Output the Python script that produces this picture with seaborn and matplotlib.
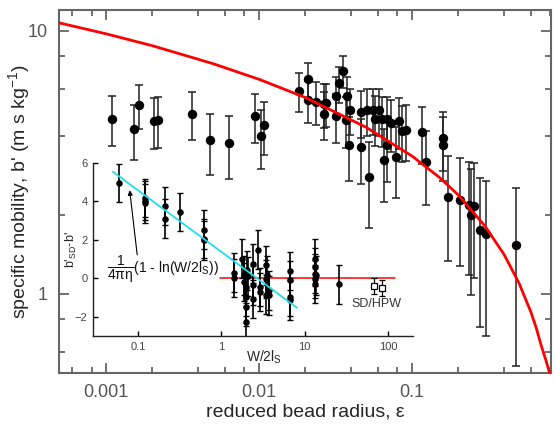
import numpy as np
import pandas as pd
import matplotlib
matplotlib.use('Agg')
import matplotlib.pyplot as plt
from matplotlib.ticker import LogLocator, NullFormatter, FixedLocator
import seaborn as sns

sns.set_style('ticks')
plt.rcParams['font.family'] = ['Liberation Sans', 'DejaVu Sans']
plt.rcParams['mathtext.fontset'] = 'custom'
plt.rcParams['mathtext.rm'] = 'Liberation Sans'
plt.rcParams['mathtext.it'] = 'Liberation Sans:italic'

# ── main data: reduced bead radius vs specific mobility ──────────────────────
eps_main = [0.00109, 0.00151, 0.00163, 0.00204, 0.00218, 0.00363, 0.00479, 0.00637, 0.00942, 0.0102, 0.0108,
            0.0181, 0.0207, 0.0208, 0.0235, 0.0266, 0.0274, 0.0266, 0.0318, 0.0318, 0.0335,
            0.0352, 0.0378, 0.0370, 0.0393, 0.0386, 0.0462, 0.0462, 0.0523, 0.0506, 0.0559,
            0.0611, 0.0573, 0.0634, 0.069, 0.0726, 0.069, 0.0656, 0.0786, 0.0823, 0.0857,
            0.0914, 0.116, 0.123, 0.160, 0.160, 0.171, 0.206, 0.236, 0.254, 0.242,
            0.278, 0.303, 0.478]
b_main = [4.64, 4.24, 5.22, 4.55, 4.60, 4.83, 3.84, 3.73, 4.74, 3.98, 4.38,
          5.92, 6.54, 5.45, 5.37, 5.27, 5.30, 4.85, 5.65, 4.74, 6.31,
          7.05, 5.65, 4.60, 5.02, 3.69, 4.92, 3.62, 2.78, 4.99, 5.02,
          4.99, 4.64, 4.62, 4.62, 4.47, 3.67, 3.24, 3.31, 4.55, 4.16,
          4.21, 4.13, 3.17, 3.93, 3.69, 2.33, 2.28, 2.18, 2.15, 1.99,
          1.75, 1.69, 1.53]
b_err = 1.0

# theory curve
eps_fit = [0.00049, 0.001, 0.002, 0.005, 0.01, 0.02, 0.05, 0.1, 0.15, 0.2,
           0.3, 0.4, 0.5, 0.6, 0.65, 0.7, 0.75, 0.81]
b_fit = [10.73, 9.74, 8.78, 7.50, 6.54, 5.58, 4.30, 3.34, 2.78, 2.38,
         1.81, 1.41, 1.10, 0.85, 0.74, 0.635, 0.56, 0.48]

# ── inset data: W/2lS vs b'SD - b' ───────────────────────────────────────────
w_in = [0.060, 0.123, 0.123, 0.123, 0.214, 0.214, 0.316, 0.613, 0.613, 0.613,
        1.43, 1.43, 1.77, 1.85, 1.90, 1.98, 1.98, 1.98, 1.98, 2.03,
        2.09, 2.40, 2.40, 2.40, 2.73, 2.94, 2.94, 3.44, 3.53, 3.70,
        3.70, 3.47, 3.47,
        6.73, 6.73, 6.73, 6.73, 13.4, 13.4, 13.4, 13.4, 13.4, 13.6, 25.6]
db_in = [4.97, 4.19, 3.90, 4.05, 3.77, 3.11, 3.46, 2.54, 2.07, 1.98,
         0.30, 0.02, 1.03, 0.16, -0.19, -0.45, -0.97, -1.50, -2.28, 0.42,
         0.10, 0.77, -0.37, -1.06, 1.50, -0.45, -0.71, 0.68, 0.16, -0.63,
         -0.89, -0.02, -0.85,
         0.38, -0.10, -0.97, -1.15, 1.03, 0.59, 0.25, -0.02, -0.28, 0.16, -0.31]
db_err = 1.0

w_sd = [67.4, 85.7]
db_sd = [-0.40, -0.51]
sd_err = 0.4

w_lin = [0.05, 8.1]
db_lin = [5.55, -1.53]
w_zero = [0.97, 122]
db_zero = [0.0, 0.0]

df_main = pd.DataFrame({'eps': eps_main, 'b': b_main})
df_fit = pd.DataFrame({'eps': eps_fit, 'b': b_fit})
df_in = pd.DataFrame({'w': w_in, 'db': db_in})

fig = plt.figure(figsize=(5.54, 4.24), dpi=100)
ax = fig.add_axes([0.1065, 0.1203, 0.888, 0.856])
ax_in = fig.add_axes([0.168, 0.2075, 0.5776, 0.408])
ax_in.patch.set_alpha(0)

# ── main panel ───────────────────────────────────────────────────────────────
ax.set_xscale('log')
ax.set_yscale('log')
ax.errorbar(df_main['eps'], df_main['b'], yerr=b_err, fmt='none', ecolor='#222222',
            elinewidth=1.1, capsize=3.2, capthick=1.1, zorder=2)
sns.scatterplot(data=df_main, x='eps', y='b', ax=ax, color='black', s=46,
                edgecolor='black', linewidth=0, zorder=3)
sns.lineplot(data=df_fit, x='eps', y='b', ax=ax, color='#ff0000', lw=2.0, zorder=4)

ax.set_xlim(0.00049, 0.81)
ax.set_ylim(0.5, 12)
ax.xaxis.set_minor_locator(LogLocator(base=10, subs=[2, 4, 6, 8]))
ax.yaxis.set_minor_locator(LogLocator(base=10, subs=[2, 4, 6, 8]))
ax.xaxis.set_minor_formatter(NullFormatter())
ax.yaxis.set_minor_formatter(NullFormatter())
ax.xaxis.set_major_locator(FixedLocator([0.001, 0.01, 0.1]))
ax.yaxis.set_major_locator(FixedLocator([1, 10]))
ax.set_xticklabels(['0.001', '0.01', '0.1'])
ax.set_yticklabels(['1', '10'])
ax.tick_params(which='both', direction='in', top=True, right=True, colors='#666666',
               labelcolor='#555555', labelsize=13)
ax.tick_params(which='major', length=7.5, width=1.3)
ax.tick_params(which='minor', length=4, width=1.3)
ax.tick_params(axis='x', pad=8)
ax.tick_params(axis='y', pad=8)
for sp in ax.spines.values():
    sp.set_color('#666666')
    sp.set_linewidth(1.5)
ax.set_xlabel('reduced bead radius, ε', fontsize=14, labelpad=2)
ax.set_ylabel("specific mobility, b' (m s kg$^{\\mathrm{-1}}$)", fontsize=14)
ax.yaxis.set_label_coords(-0.055, 0.5)

# ── inset panel ──────────────────────────────────────────────────────────────
ax_in.set_xscale('log')
ax_in.errorbar(df_in['w'], df_in['db'], yerr=db_err, fmt='none', ecolor='black',
               elinewidth=1.2, capsize=2.4, capthick=1.0, zorder=2)
sns.scatterplot(data=df_in, x='w', y='db', ax=ax_in, color='black', s=22,
                linewidth=0, zorder=3)
ax_in.errorbar(w_sd, db_sd, yerr=sd_err, fmt='s', color='black', mfc='white', mec='black',
               ms=5, mew=0.9, elinewidth=0.9, capsize=2.4, zorder=3)
sns.lineplot(x=w_lin, y=db_lin, ax=ax_in, color='#22dde8', lw=1.3, zorder=4)
sns.lineplot(x=w_zero, y=db_zero, ax=ax_in, color='#ff0000', lw=1.1, zorder=1)

ax_in.set_xlim(0.029, 200)
ax_in.set_ylim(-3, 6)
ax_in.xaxis.set_major_locator(FixedLocator([0.1, 1, 10, 100]))
ax_in.set_xticklabels(['0.1', '1', '10', '100'])
ax_in.xaxis.set_minor_locator(plt.NullLocator())
ax_in.set_yticks([-2, 0, 2, 4, 6])
ax_in.tick_params(which='both', direction='in', length=3.5, width=1.0, colors='black',
                  labelcolor='#444444', labelsize=8, pad=4)
ax_in.spines['top'].set_visible(False)
ax_in.spines['right'].set_visible(False)
for sp in ['left', 'bottom']:
    ax_in.spines[sp].set_color('#222222')
    ax_in.spines[sp].set_linewidth(1.0)
ax_in.set_xlabel('W/2l$_\\mathrm{S}$', fontsize=10)
ax_in.xaxis.set_label_coords(0.535, -0.07)
ax_in.set_ylabel("b'$_\\mathrm{SD}$-b'", fontsize=9)
ax_in.yaxis.set_label_coords(-0.045, 0.5)

ax_in.text(0.043, 0.47, r'$\dfrac{1}{\mathrm{4πη}}$(1 - ln(W/2l$_\mathrm{S}$))',
           fontsize=10, ha='left', va='center', color='#111111')
ax_in.annotate('', xy=(0.079, 4.73), xytext=(0.099, 1.08),
               arrowprops=dict(arrowstyle='-|>', color='black', lw=0.8, mutation_scale=7))
ax_in.text(72, -1.32, 'SD/HPW', fontsize=9, ha='center', va='center', color='#333333')

fig.savefig('out.png', dpi=100)
